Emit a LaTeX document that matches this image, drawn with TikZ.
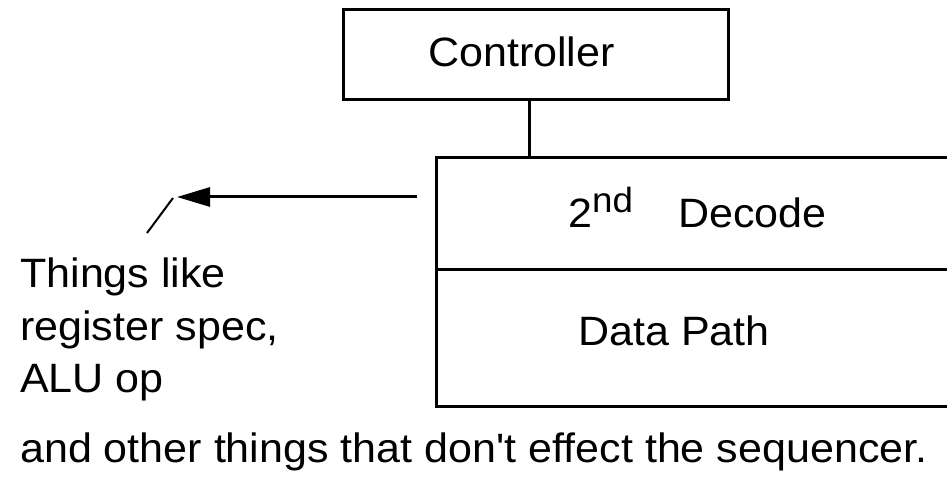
\documentclass[tikz,border=0pt]{standalone}
\usepackage{fontspec}
\setmainfont{Liberation Sans}[Ligatures=NoCommon]
\usetikzlibrary{arrows.meta}
\begin{document}
\begin{tikzpicture}[x=1pt,y=1pt,
  box/.style={draw,line width=3pt,rectangle,inner sep=0pt},
  lbl/.style={inner sep=0pt,anchor=base west,xscale=1.05,font=\fontsize{41}{49}\selectfont},
  wire/.style={line width=3pt},
  thin/.style={line width=2pt}]
\useasboundingbox (0,0) rectangle (947,492);
\clip (0,0) rectangle (947,492);
% Controller box
\node[box,minimum width=385pt,minimum height=90pt] (ctrl) at (535.5,437) {};
% big box parts
\node[box,minimum width=560pt,minimum height=112pt] (dec) at (716,278) {};
\node[box,minimum width=560pt,minimum height=137pt] (dp) at (716,153.5) {};
% labels
\node[lbl] (tc) at (428,425) {Controller};
\node[lbl] (td) at (568,264) {2\raisebox{15pt}{\fontsize{35}{40}\selectfont nd}\hspace{1.05em}Decode};
\node[lbl] (tp) at (578,146) {Data Path};
\node[lbl] (t1) at (20,204) {Things like};
\node[lbl] (t2) at (20,151) {register spec,};
\node[lbl] (t3) at (20,99) {ALU op};
\node[lbl] (t4) at (20,29) {and other things that don\textquotesingle t effect the sequencer.};
% connector
\coordinate (xc) at (529,0);
\draw[wire] (ctrl.south -| xc) -- (dec.north -| xc);
% arrow
\coordinate (as) at (417,295);
\coordinate (ae) at (177,295);
\draw[wire,-{Triangle[length=33pt,width=19pt]}] (as) -- (ae);
\coordinate (s1) at (147,259);
\coordinate (s2) at (173,294);
\draw[thin] (s1) -- (s2);
\end{tikzpicture}
\end{document}
